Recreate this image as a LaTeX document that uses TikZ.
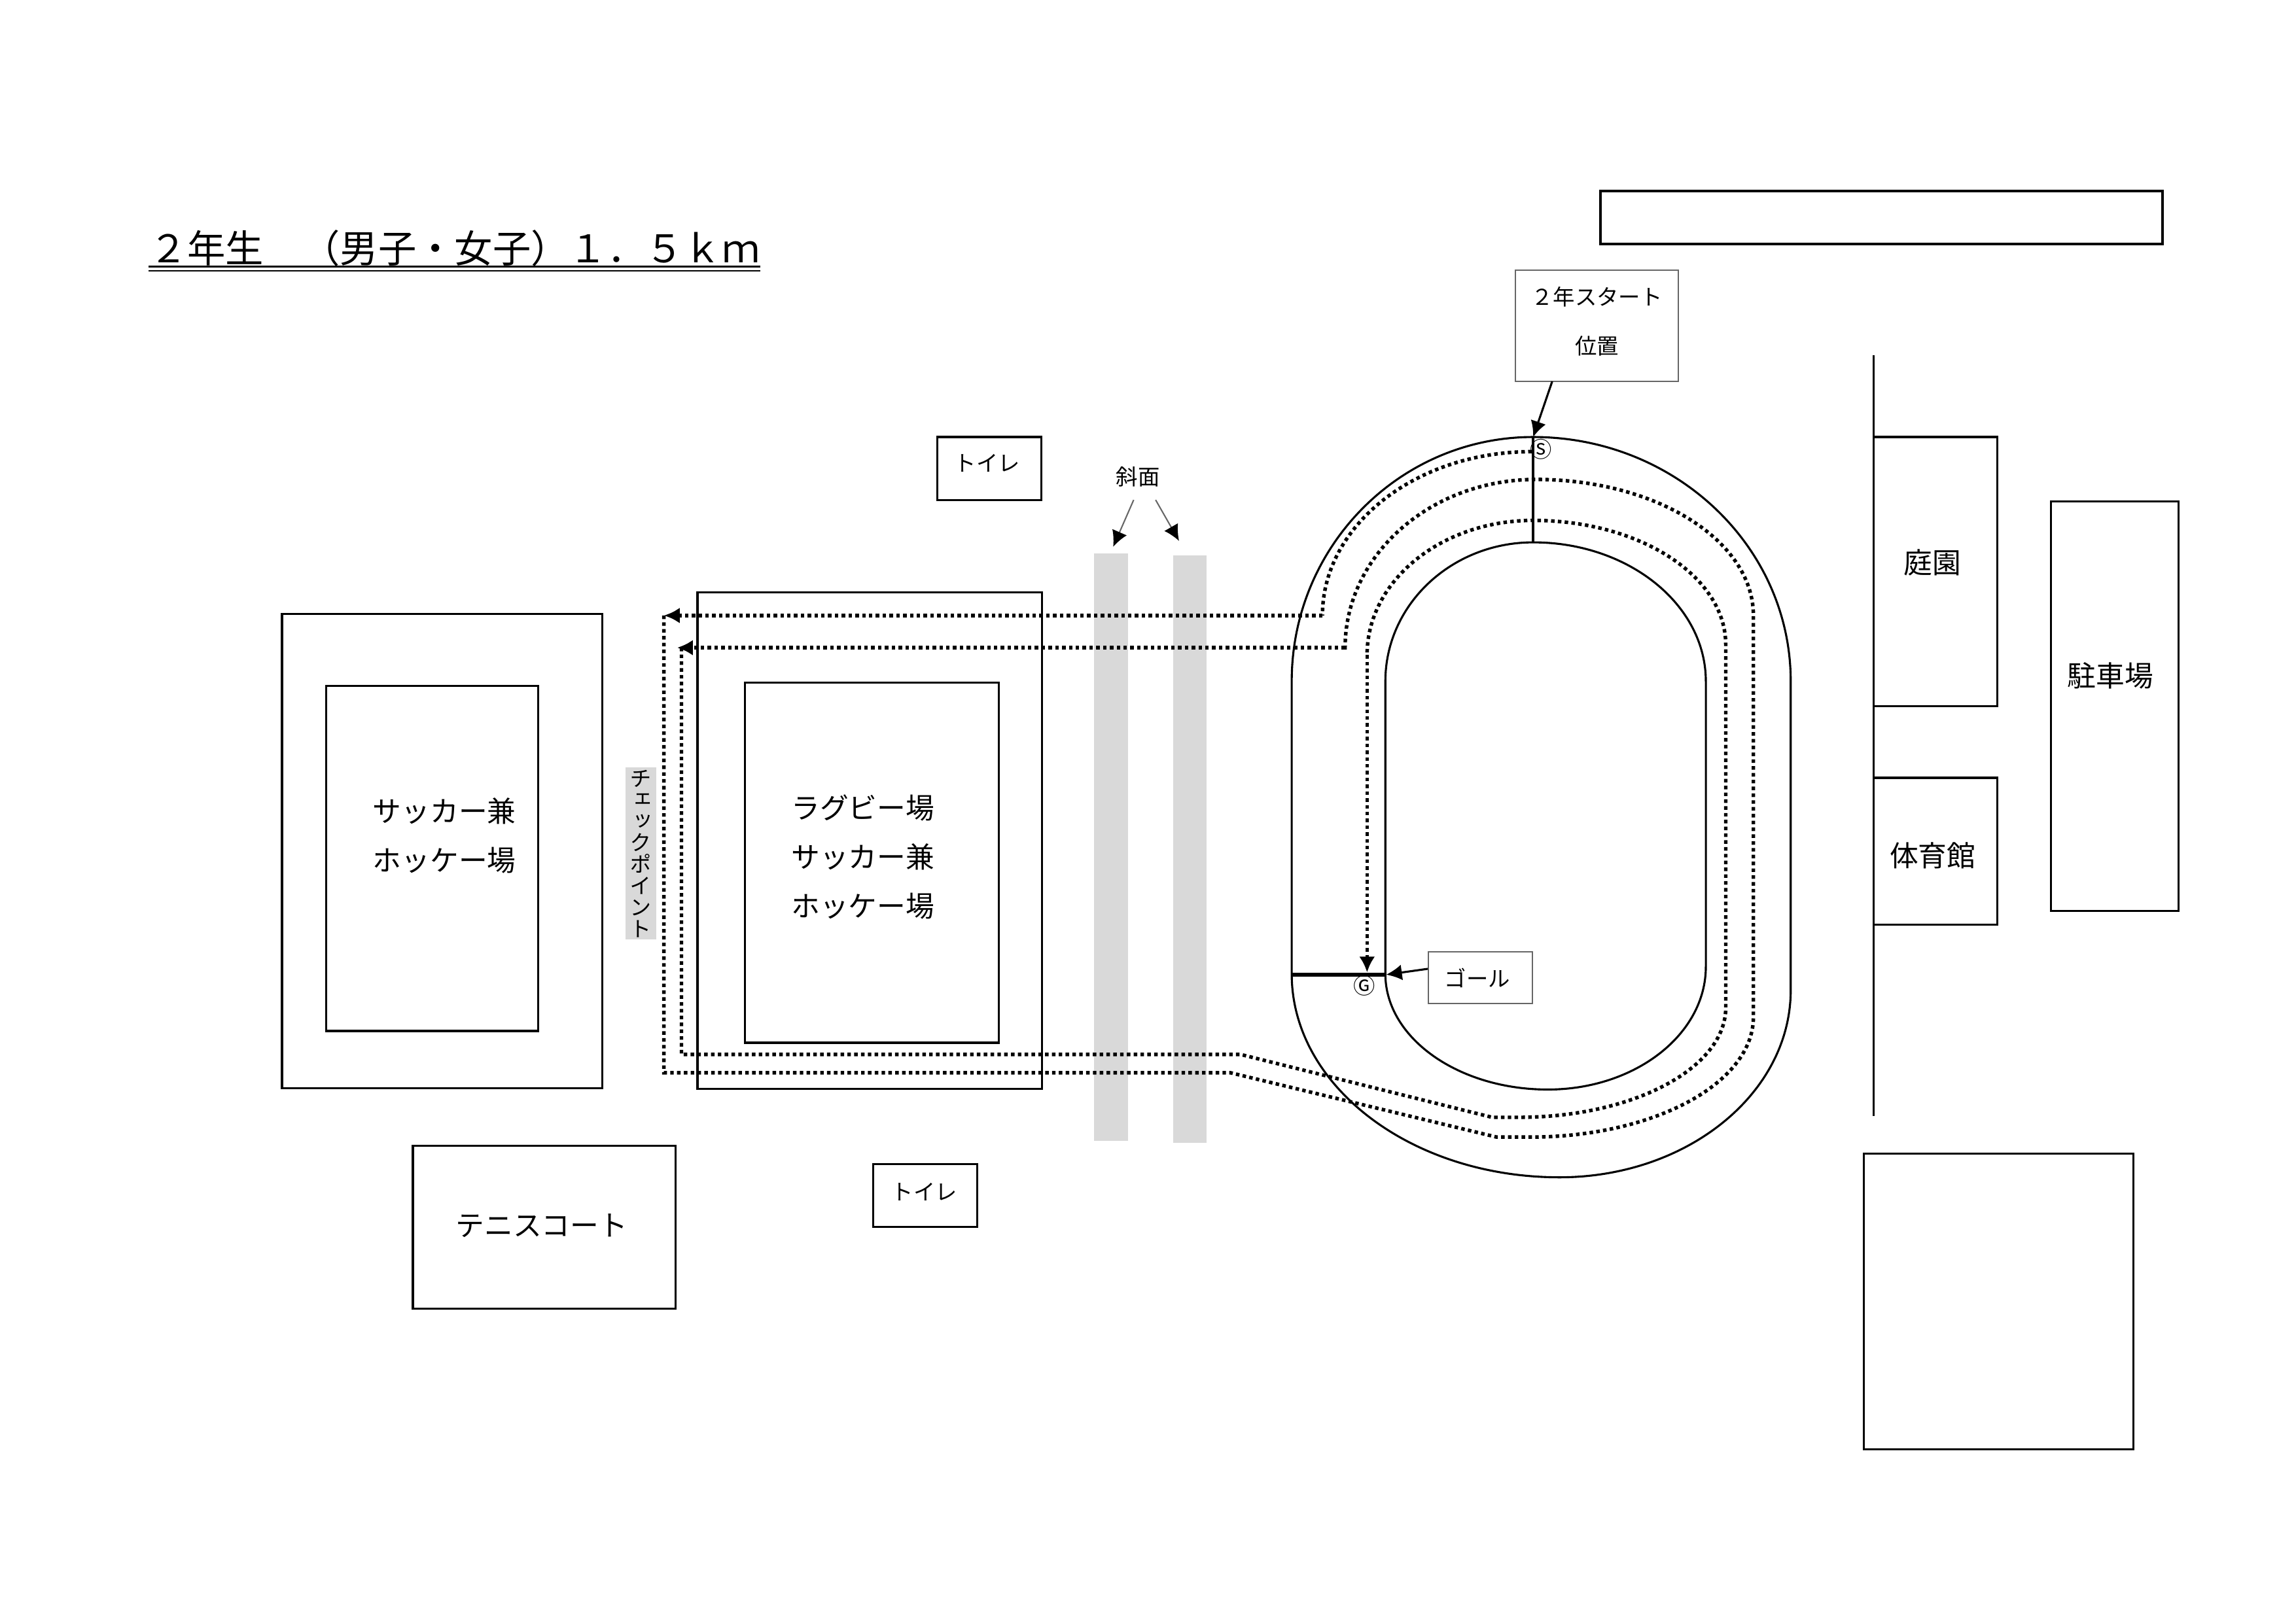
\documentclass[tikz,border=0pt]{standalone}
\usepackage{fontspec}
\usetikzlibrary{arrows.meta}
\newfontfamily\jp{Noto Sans CJK JP}
\newfontfamily\jpv[RawFeature=+vert]{Noto Sans CJK JP}
\tikzset{
  wh/.style 2 args={minimum width=#1*0.5366pt,minimum height=#2*0.5366pt},
  plotbox/.style={draw,line width=0.75pt,inner sep=0,outer sep=0},
  noted/.style={draw=black!60,line width=0.5pt,inner sep=0,outer sep=0},
  bigtext/.style={font=\jp\fontsize{10.5pt}{18pt}\selectfont,align=center,inner sep=0},
  smalltext/.style={font=\jp\fontsize{8pt}{18pt}\selectfont,align=center,inner sep=0},
  circled/.style={font=\jp\fontsize{8pt}{8pt}\selectfont,inner sep=0},
  slopebar/.style={fill=black!15,inner sep=0,outer sep=0},
  track/.style={line width=0.75pt},
  route/.style={line width=1.3pt,dash pattern=on 1.3pt off 1.2pt},
  head/.style={-{Latex[length=5.8pt,width=5.8pt,color=black]}},
}
\begin{document}
\begin{tikzpicture}[x=0.5366pt,y=-0.5366pt]
  \useasboundingbox (-0.7,-0.7) rectangle (1568.3,1108.2);

  \node [bigtext,font=\jp\fontsize{14pt}{18pt}\selectfont] (title) at (310,169) {２年生　（男子・女子）１．５ｋｍ};
  \coordinate (titleL) at (101,181.6);
  \coordinate (titleR) at (519,181.6);
  \draw [line width=0.65pt] (titleL) -- (titleR);
  \draw [line width=0.65pt] ([yshift=-1.5pt]titleL) -- ([yshift=-1.5pt]titleR);

  \node [plotbox,wh={384}{36},line width=1pt] (blank) at (1285,148) {};
  \node [noted,wh={111}{76}] (startbox) at (1090.5,222) {};
  \node [smalltext] (startlab) at (1090.5,219) {２年スタート\\位置};
  \node [noted,wh={71}{35}] (goalbox) at (1011,667.5) {};
  \node [smalltext] (goallab) at (1008.8,667.5) {ゴール};

  \node [slopebar,wh={23}{401.5}] (slopeA) at (758.5,578.2) {};
  \node [slopebar,wh={23}{401.5}] (slopeB) at (812.5,579.7) {};
  \node [smalltext] (slopelab) at (777,325) {斜面};
  \coordinate (slopeAtop) at (774,341);
  \coordinate (slopeBtop) at (789,341);
  \coordinate (slopeAend) at (760,373);
  \coordinate (slopeBend) at (805,369);
  \draw [head,draw=black!60,line width=0.5pt] (slopeAtop) -- (slopeAend);
  \draw [head,draw=black!60,line width=0.5pt] (slopeBtop) -- (slopeBend);

  \node [plotbox,wh={219}{324}] (soccerO) at (301.5,581) {};
  \node [plotbox,wh={145}{236}] (soccerI) at (294.5,586) {};
  \node [bigtext] (soccerlab) at (303,570.5) {サッカー兼\\ホッケー場};

  \node [plotbox,wh={235.5}{339.6}] (rugbyO) at (593.7,573.8) {};
  \node [plotbox,wh={173.5}{246}] (rugbyI) at (595.2,589) {};
  \node [bigtext] (rugbylab) at (589,585) {ラグビー場\\サッカー兼\\ホッケー場};

  \node [fill=black!15,wh={20.7}{117.6},inner sep=0,outer sep=0,align=center,font=\jpv\fontsize{8pt}{7.9pt}\selectfont] (check) at (437.2,582.8) {チ\\ェ\\ッ\\ク\\ポ\\イ\\ン\\ト};

  \node [plotbox,wh={71}{43}] (toiletA) at (675.5,319.5) {};
  \node [smalltext] (toiletAlab) at (674,316) {トイレ};
  \node [plotbox,wh={71}{43}] (toiletB) at (631.5,816.5) {};
  \node [smalltext] (toiletBlab) at (631,814) {トイレ};
  \node [plotbox,wh={179.5}{111.5}] (tennis) at (371.2,838.2) {};
  \node [bigtext] (tennislab) at (369.5,837) {テニスコート};

  \coordinate (fenceT) at (1279.5,242);
  \coordinate (fenceB) at (1279.5,762);
  \draw [track] (fenceT) -- (fenceB);
  \node [plotbox,wh={84.5}{184}] (garden) at (1322,390) {};
  \node [bigtext] (gardenlab) at (1320,384) {庭園};
  \node [plotbox,wh={84.5}{100.5}] (gym) at (1322,581.2) {};
  \node [bigtext] (gymlab) at (1320,584) {体育館};
  \node [plotbox,wh={87}{280}] (parking) at (1444.5,482) {};
  \node [bigtext] (parkinglab) at (1441.5,461) {駐車場};
  \node [plotbox,wh={184}{202}] (square) at (1365,889) {};

  \draw [track] (882,465) arc[start angle=180,end angle=270,x radius=165,y radius=167]
    arc[start angle=270,end angle=360,x radius=176,y radius=167]
    -- (1223,676) arc[start angle=0,end angle=90,x radius=158,y radius=128]
    arc[start angle=90,end angle=180,x radius=183,y radius=139] -- cycle;
  \draw [track] (946,465) arc[start angle=180,end angle=270,x radius=101,y radius=95]
    arc[start angle=270,end angle=360,x radius=118,y radius=95]
    -- (1165,660) arc[start angle=0,end angle=90,x radius=108,y radius=84]
    arc[start angle=90,end angle=180,x radius=111,y radius=79] -- cycle;

  \coordinate (startT) at (1047,298);
  \coordinate (startB) at (1047,370);
  \coordinate (goalL) at (882,665.5);
  \coordinate (goalR) at (946.5,665.5);
  \coordinate (startfoot) at (1060,260);
  \coordinate (goalside) at (975,661.5);
  \draw [line width=1pt] (startT) -- (startB);
  \draw [line width=1.5pt] (goalL) -- (goalR);
  \draw [head,line width=0.75pt] (startfoot) -- (startT);
  \draw [head,line width=0.75pt] (goalside) -- (goalR);
  \node [circled] (smark) at (1052.5,306.5) {Ⓢ};
  \node [circled] (gmark) at (931.5,673) {Ⓖ};

  \coordinate (outerA) at (1046,308);
  \coordinate (outerB) at (903,420);
  \coordinate (outerC) at (453,420);
  \coordinate (outerD) at (453,732.5);
  \coordinate (outerE) at (840,732.5);
  \coordinate (outerF) at (1022,776.5);
  \coordinate (midA) at (1045,776.5);
  \coordinate (midC) at (1197.5,420);
  \coordinate (midD) at (918.5,442);
  \coordinate (midE) at (462,442);
  \coordinate (innerA) at (465,442);
  \coordinate (innerB) at (465,720);
  \coordinate (innerC) at (847,720);
  \coordinate (innerD) at (1019,763);
  \coordinate (innerE) at (1037,763);
  \coordinate (innerG) at (1178.6,440);
  \coordinate (innerH) at (933.5,447);
  \coordinate (innerI) at (933.5,664);

  \draw [route] (outerA) arc[start angle=270,end angle=180,x radius=143,y radius=112] -- (outerB);
  \draw [route,head] (outerB) -- (outerC);
  \draw [route] (outerC) -- (outerD) -- (outerE) -- (outerF) -- (midA)
    arc[start angle=90,end angle=0,x radius=152.5,y radius=82] -- (midC)
    arc[start angle=360,end angle=270,x radius=148.5,y radius=93]
    arc[start angle=270,end angle=180,x radius=130.5,y radius=115] -- (midD);
  \draw [route,head] (midD) -- (midE);
  \draw [route] (innerA) -- (innerB) -- (innerC) -- (innerD) -- (innerE)
    arc[start angle=90,end angle=0,x radius=141.6,y radius=75] -- (innerG)
    arc[start angle=360,end angle=270,x radius=131.6,y radius=85]
    arc[start angle=270,end angle=180,x radius=113.5,y radius=92] -- (innerH);
  \draw [route,head] (innerH) -- (innerI);
\end{tikzpicture}
\end{document}
